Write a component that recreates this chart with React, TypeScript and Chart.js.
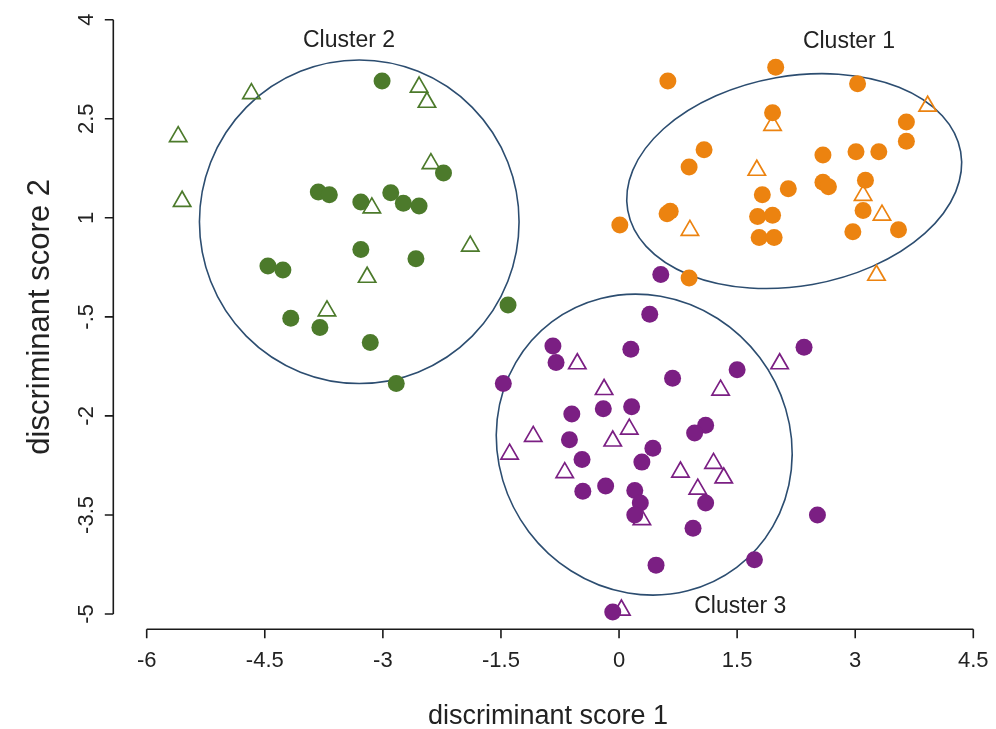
import React, { useEffect, useRef } from "react";
import { Chart, registerables } from "chart.js";

Chart.register(...registerables);

// ---------- data ----------
const xTicks = [-6, -4.5, -3, -1.5, 0, 1.5, 3, 4.5];
const xTickLabels = ["-6", "-4.5", "-3", "-1.5", "0", "1.5", "3", "4.5"];
const yTicks = [-5, -3.5, -2, -0.5, 1, 2.5, 4];
const yTickLabels = ["-5", "-3.5", "-2", "-.5", "1", "2.5", "4"];
const xTitle = "discriminant score 1";
const yTitle = "discriminant score 2";

// Cluster 1 (orange)
const cluster1Circles: [number, number][] = [
  [0.62, 3.07], [1.99, 3.28], [3.03, 3.03], [1.95, 2.59], [3.65, 2.45], [3.65, 2.16],
  [1.08, 2.03], [0.89, 1.77], [2.59, 1.95], [3.01, 2.0], [3.3, 2.0], [3.13, 1.57],
  [2.59, 1.54], [2.66, 1.47], [2.15, 1.44], [1.82, 1.35], [0.65, 1.1], [0.61, 1.06],
  [0.01, 0.89], [1.76, 1.02], [1.95, 1.04], [1.78, 0.7], [1.97, 0.7], [3.1, 1.11],
  [2.97, 0.79], [3.55, 0.82], [0.89, 0.09],
];
const cluster1Triangles: [number, number][] = [
  [3.92, 2.69], [1.95, 2.4], [1.75, 1.72], [3.1, 1.34], [3.34, 1.04], [0.9, 0.81], [3.27, 0.13],
];

// Cluster 2 (green)
const cluster2Circles: [number, number][] = [
  [-3.01, 3.07], [-2.23, 1.68], [-3.82, 1.39], [-3.68, 1.35], [-3.28, 1.24], [-2.9, 1.38],
  [-2.74, 1.22], [-2.54, 1.18], [-3.28, 0.52], [-2.58, 0.38], [-4.46, 0.27], [-4.27, 0.21],
  [-4.17, -0.52], [-3.8, -0.66], [-3.16, -0.89], [-2.83, -1.51], [-1.41, -0.32],
];
const cluster2Triangles: [number, number][] = [
  [-4.67, 2.88], [-2.54, 2.98], [-2.44, 2.75], [-5.6, 2.23], [-5.55, 1.25], [-2.39, 1.82],
  [-3.14, 1.15], [-1.89, 0.57], [-3.2, 0.1], [-3.71, -0.41],
];

// Cluster 3 (purple)
const cluster3Circles: [number, number][] = [
  [0.53, 0.14], [0.39, -0.46], [-0.84, -0.94], [-0.8, -1.19], [0.15, -0.99], [2.35, -0.96],
  [1.5, -1.3], [-1.47, -1.51], [0.68, -1.43], [-0.6, -1.97], [-0.2, -1.89], [0.16, -1.86],
  [1.1, -2.14], [0.96, -2.26], [-0.63, -2.36], [0.43, -2.49], [0.29, -2.7], [-0.47, -2.66],
  [-0.46, -3.14], [-0.17, -3.06], [0.2, -3.13], [0.27, -3.32], [0.2, -3.5], [1.1, -3.32],
  [0.94, -3.7], [2.52, -3.5], [0.47, -4.26], [1.72, -4.18], [-0.08, -4.97],
];
const cluster3Triangles: [number, number][] = [
  [-0.53, -1.21], [-0.19, -1.6], [2.04, -1.21], [1.29, -1.61], [-1.09, -2.31], [0.13, -2.2],
  [-0.08, -2.38], [-1.39, -2.58], [-0.69, -2.86], [0.78, -2.85], [1.2, -2.72], [1.33, -2.94],
  [1.0, -3.11], [0.29, -3.57], [0.03, -4.94],
];

// Cluster ellipses: centre, semi-axes, tilt (degrees)
const ellipseCentersX = [2.225, -3.3, 0.32];
const ellipseCentersY = [1.556, 0.94, -2.435];
const ellipseSemiA = [2.147, 2.03, 1.952];
const ellipseSemiB = [1.589, 2.45, 2.19];
const ellipseTilt = [-10, 0, 53];

const clusterLabels = ["Cluster 1", "Cluster 2", "Cluster 3"];
const clusterLabelX = [2.92, -3.43, 1.54];
const clusterLabelY = [3.66, 3.69, -4.89];

// ---------- styles ----------
const GREEN = "#4c7a2b";
const ORANGE = "#ec8310";
const PURPLE = "#7b1f83";
const ELLIPSE = "#2c4d70";
const FONT = "'Liberation Sans', Arial, sans-serif";

const toPts = (a: [number, number][]) => a.map(([x, y]) => ({ x, y }));

const overlayPlugin = {
  id: "overlay",
  beforeDatasetsDraw(chart: any) {
    const { ctx, scales } = chart;
    const xs = scales.x;
    const ys = scales.y;
    const pxX = Math.abs(xs.getPixelForValue(1) - xs.getPixelForValue(0));
    const pxY = Math.abs(ys.getPixelForValue(1) - ys.getPixelForValue(0));
    ctx.save();
    ctx.strokeStyle = ELLIPSE;
    ctx.lineWidth = 1.6;
    for (let i = 0; i < ellipseCentersX.length; i++) {
      const cx = xs.getPixelForValue(ellipseCentersX[i]);
      const cy = ys.getPixelForValue(ellipseCentersY[i]);
      ctx.beginPath();
      ctx.ellipse(cx, cy, ellipseSemiA[i] * pxX, ellipseSemiB[i] * pxY, (ellipseTilt[i] * Math.PI) / 180, 0, Math.PI * 2);
      ctx.stroke();
    }
    ctx.restore();
  },
  afterDraw(chart: any) {
    const { ctx, scales, chartArea } = chart;
    const xs = scales.x;
    const ys = scales.y;
    ctx.save();
    ctx.strokeStyle = "#1a1a1a";
    ctx.fillStyle = "#1a1a1a";
    ctx.lineWidth = 1.6;

    // y axis (detached)
    const yAxisX = chartArea.left - 33.4;
    const yTop = ys.getPixelForValue(yTicks[yTicks.length - 1]);
    const yBot = ys.getPixelForValue(yTicks[0]);
    ctx.beginPath();
    ctx.moveTo(yAxisX, yTop);
    ctx.lineTo(yAxisX, yBot);
    yTicks.forEach((v) => {
      const p = ys.getPixelForValue(v);
      ctx.moveTo(yAxisX, p);
      ctx.lineTo(yAxisX - 8.5, p);
    });
    ctx.stroke();

    // x axis (detached)
    const xAxisY = chartArea.bottom + 15.3;
    const xL = xs.getPixelForValue(xTicks[0]);
    const xR = xs.getPixelForValue(xTicks[xTicks.length - 1]);
    ctx.beginPath();
    ctx.moveTo(xL, xAxisY);
    ctx.lineTo(xR, xAxisY);
    xTicks.forEach((v) => {
      const p = xs.getPixelForValue(v);
      ctx.moveTo(p, xAxisY);
      ctx.lineTo(p, xAxisY + 9);
    });
    ctx.stroke();

    // tick labels
    ctx.font = `22px ${FONT}`;
    ctx.fillStyle = "#222";
    ctx.textAlign = "center";
    ctx.textBaseline = "alphabetic";
    xTicks.forEach((v, i) => {
      ctx.fillText(xTickLabels[i], xs.getPixelForValue(v), xAxisY + 38);
    });
    yTicks.forEach((v, i) => {
      ctx.save();
      ctx.translate(yAxisX - 20, ys.getPixelForValue(v));
      ctx.rotate(-Math.PI / 2);
      ctx.fillText(yTickLabels[i], 0, 0);
      ctx.restore();
    });

    // axis titles
    ctx.font = `27px ${FONT}`;
    ctx.fillText(xTitle, (xL + xR) / 2 - 12, chartArea.bottom + 110);
    ctx.save();
    ctx.font = `31px ${FONT}`;
    ctx.translate(41, (yTop + yBot) / 2);
    ctx.rotate(-Math.PI / 2);
    ctx.fillText(yTitle, 0, 0);
    ctx.restore();

    // cluster labels
    ctx.font = `23px ${FONT}`;
    ctx.textBaseline = "middle";
    clusterLabels.forEach((t, i) => {
      ctx.fillText(t, xs.getPixelForValue(clusterLabelX[i]), ys.getPixelForValue(clusterLabelY[i]));
    });
    ctx.restore();
  },
};

export default function App() {
  const ref = useRef<HTMLCanvasElement | null>(null);
  useEffect(() => {
    if (!ref.current) return;
    const circle = (data: [number, number][], color: string, label: string) => ({
      label,
      data: toPts(data),
      pointStyle: "circle",
      pointRadius: 8.5,
      pointHoverRadius: 8.5,
      backgroundColor: color,
      borderColor: color,
      borderWidth: 0,
      clip: false,
      order: 0,
    });
    const tri = (data: [number, number][], color: string, label: string) => ({
      label,
      data: toPts(data),
      pointStyle: "triangle",
      pointRadius: 10,
      pointHoverRadius: 10,
      backgroundColor: "rgba(255,255,255,0)",
      borderColor: color,
      borderWidth: 1.7,
      clip: false,
      order: 1,
    });
    const chart = new Chart(ref.current, {
      type: "scatter",
      data: {
        datasets: [
          circle(cluster1Circles, ORANGE, "Cluster 1"),
          circle(cluster2Circles, GREEN, "Cluster 2"),
          circle(cluster3Circles, PURPLE, "Cluster 3"),
          tri(cluster1Triangles, ORANGE, "Cluster 1 (other)"),
          tri(cluster2Triangles, GREEN, "Cluster 2 (other)"),
          tri(cluster3Triangles, PURPLE, "Cluster 3 (other)"),
        ] as any,
      },
      options: {
        animation: false,
        responsive: true,
        maintainAspectRatio: false,
        layout: { padding: { left: 138.7, right: 14.7, top: 11.3, bottom: 115 } },
        plugins: { legend: { display: false }, tooltip: { enabled: false } },
        scales: {
          x: { type: "linear", min: -6, max: 4.5, display: false },
          y: { type: "linear", min: -5, max: 4, display: false },
        },
      },
      plugins: [overlayPlugin],
    });
    return () => chart.destroy();
  }, []);
  return (
    <div style={{ width: 980, height: 721, position: "relative" }}>
      <canvas ref={ref} />
    </div>
  );
}
